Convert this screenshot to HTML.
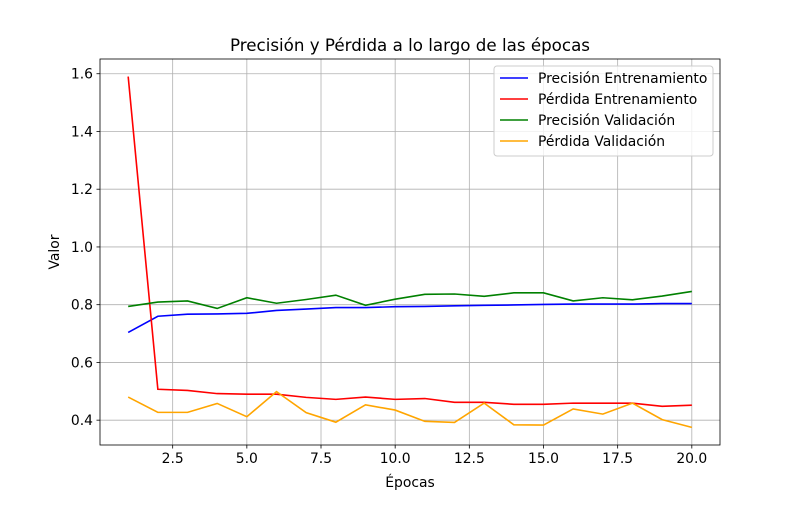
<!DOCTYPE html>
<html><head><meta charset="utf-8"><style>
body{margin:0;background:#fff}
svg{font-family:"DejaVu Sans","Liberation Sans",sans-serif}
</style></head><body>
<svg id="chart" width="800" height="500">
<g id="grid"></g><g id="series"></g><g id="axes"></g><g id="legend"></g>
</svg>
<script>
const epochs=[1,2,3,4,5,6,7,8,9,10,11,12,13,14,15,16,17,18,19,20];
const trainAcc=[0.704,0.760,0.767,0.768,0.770,0.780,0.785,0.790,0.790,0.793,0.794,0.796,0.798,0.799,0.801,0.802,0.802,0.802,0.804,0.804];
const trainLoss=[1.59,0.507,0.503,0.492,0.490,0.490,0.479,0.472,0.480,0.472,0.475,0.462,0.462,0.455,0.455,0.459,0.459,0.459,0.448,0.452];
const valAcc=[0.794,0.809,0.813,0.787,0.824,0.805,0.818,0.833,0.798,0.819,0.836,0.837,0.829,0.841,0.841,0.813,0.824,0.817,0.830,0.846];
const valLoss=[0.480,0.427,0.427,0.458,0.412,0.499,0.426,0.393,0.453,0.435,0.396,0.392,0.459,0.384,0.383,0.439,0.421,0.459,0.402,0.375];
const xTicks=[2.5,5.0,7.5,10.0,12.5,15.0,17.5,20.0];
const yTicks=[0.4,0.6,0.8,1.0,1.2,1.4,1.6];
const seriesNames=["Precisión Entrenamiento","Pérdida Entrenamiento","Precisión Validación","Pérdida Validación"];

const L=100,R=720,T=59,B=445;
const xmin=0.05,xmax=20.95,ymin=0.314,ymax=1.651;
const X=v=>L+(v-xmin)/(xmax-xmin)*(R-L);
const Y=v=>B-(v-ymin)/(ymax-ymin)*(B-T);
const NS="http://www.w3.org/2000/svg";
const FS=13.9;
function mk(tag,attrs,parent){const e=document.createElementNS(NS,tag);for(const k in attrs)e.setAttribute(k,attrs[k]);parent.appendChild(e);return e;}
const grid=document.getElementById('grid'),ser=document.getElementById('series'),ax=document.getElementById('axes'),lg=document.getElementById('legend');

xTicks.forEach(t=>{
  const g=mk('line',{x1:X(t),x2:X(t),y1:T,y2:B,stroke:'#b0b0b0','stroke-width':0.8},grid);
  
  
  mk('line',{x1:X(t),x2:X(t),y1:B,y2:B+3.5,stroke:'#000','stroke-width':0.8},ax);
  const tx=mk('text',{x:X(t),y:B+18,'text-anchor':'middle','font-size':FS},ax);
  tx.textContent=t.toFixed(1);
  
  
});
yTicks.forEach(t=>{
  const g=mk('line',{x1:L,x2:R,y1:Y(t),y2:Y(t),stroke:'#b0b0b0','stroke-width':0.8},grid);
  
  
  mk('line',{x1:L-3.5,x2:L,y1:Y(t),y2:Y(t),stroke:'#000','stroke-width':0.8},ax);
  const tx=mk('text',{x:L-7,y:Y(t)+5,'text-anchor':'end','font-size':FS},ax);
  tx.textContent=t.toFixed(1);
  
  
});
const frame=mk('rect',{x:L,y:T,width:R-L,height:B-T,fill:'none',stroke:'#000','stroke-width':0.8},ax);



const data=[trainAcc,trainLoss,valAcc,valLoss];
const colors=['#0000ff','#ff0000','#008000','#ffa500'];
const lnames=['train-accuracy-line','train-loss-line','val-accuracy-line','val-loss-line'];
data.forEach((d,i)=>{
  const p=mk('polyline',{points:d.map((v,j)=>X(epochs[j])+','+Y(v)).join(' '),fill:'none',stroke:colors[i],'stroke-width':1.6},ser);
  
  
});

const title=mk('text',{x:(L+R)/2,y:T-8,'text-anchor':'middle','font-size':16.7},ax);
title.textContent='Precisión y Pérdida a lo largo de las épocas';


const xl=mk('text',{x:(L+R)/2,y:487,'text-anchor':'middle','font-size':FS},ax);
xl.textContent='Épocas';


const yl=mk('text',{x:0,y:0,'text-anchor':'middle','font-size':FS,transform:'translate(59,'+((T+B)/2)+') rotate(-90)'},ax);
yl.textContent='Valor';



const box=mk('rect',{x:494,y:66,width:219,height:90,rx:3,fill:'#fff','fill-opacity':0.8,stroke:'#ccc','stroke-width':1},lg);


seriesNames.forEach((n,i)=>{
  const y=78+i*21;
  const g=mk('g',{},lg);
  
  
  mk('line',{x1:500,x2:528,y1:y,y2:y,stroke:colors[i],'stroke-width':1.6},g);
  const t=mk('text',{x:538,y:y+5,'font-size':FS},g);
  t.textContent=n;
});
</script>
</body></html>
